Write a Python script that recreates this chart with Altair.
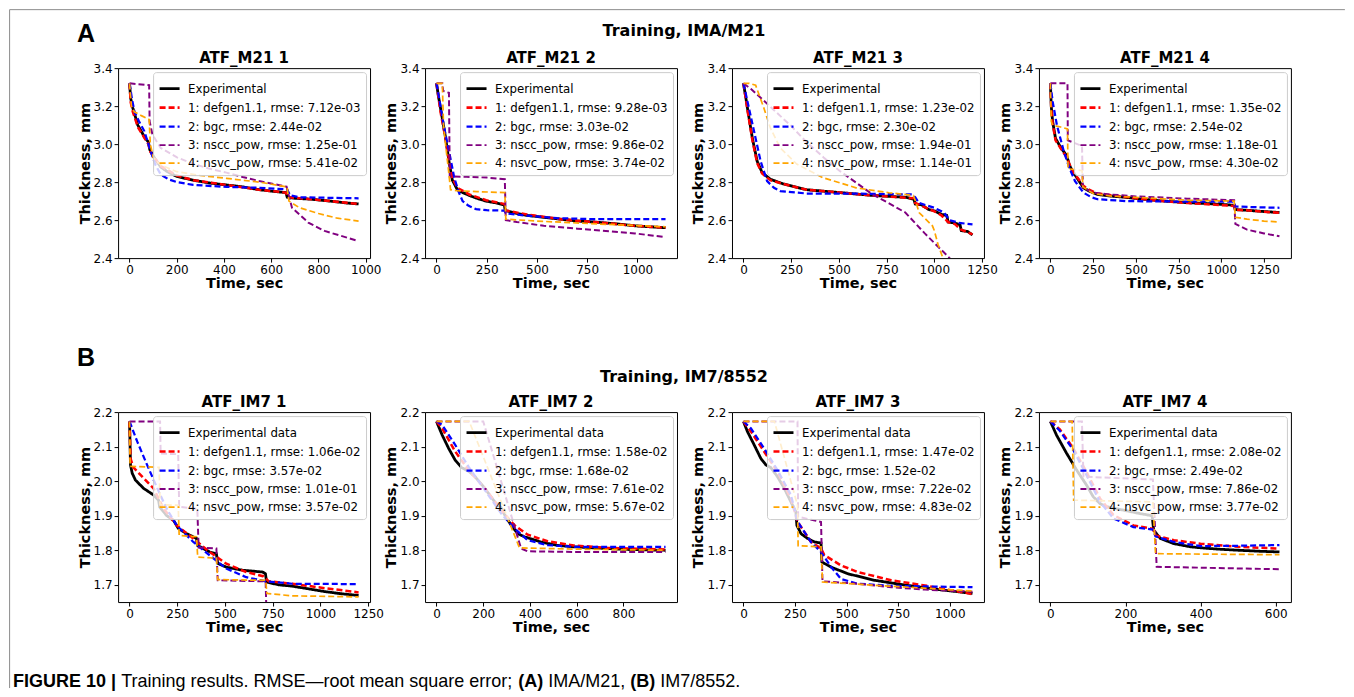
import altair as alt
import pandas as pd

# ------------------------------------------------------------------ texts
SECTION_LETTERS = ["A", "B"]
SECTION_TITLES = ["Training, IMA/M21", "Training, IM7/8552"]
PANEL_TITLES = ["ATF_M21 1", "ATF_M21 2", "ATF_M21 3", "ATF_M21 4",
                "ATF_IM7 1", "ATF_IM7 2", "ATF_IM7 3", "ATF_IM7 4"]
EXP_LABELS = ["Experimental", "Experimental data"]
MODEL_NAMES = ["1: defgen1.1", "2: bgc", "3: nscc_pow", "4: nsvc_pow"]
CAPTION_PARTS = ["FIGURE 10 |", "Training results. RMSE\u2014root mean square error;",
                 "(A)", "IMA/M21,", "(B)", "IM7/8552."]
CAPTION_BOLD = [True, False, True, False, True, False]

RMSE_A1 = ["7.12e-03", "2.44e-02", "1.25e-01", "5.41e-02"]
RMSE_A2 = ["9.28e-03", "3.03e-02", "9.86e-02", "3.74e-02"]
RMSE_A3 = ["1.23e-02", "2.30e-02", "1.94e-01", "1.14e-01"]
RMSE_A4 = ["1.35e-02", "2.54e-02", "1.18e-01", "4.30e-02"]
RMSE_B1 = ["1.06e-02", "3.57e-02", "1.01e-01", "3.57e-02"]
RMSE_B2 = ["1.58e-02", "1.68e-02", "7.61e-02", "5.67e-02"]
RMSE_B3 = ["1.47e-02", "1.52e-02", "7.22e-02", "4.83e-02"]
RMSE_B4 = ["2.08e-02", "2.49e-02", "7.86e-02", "3.77e-02"]

# ------------------------------------------------------------------ axes
XDOM_A1, XTICKS_A1 = [-48.5, 1018.5], [0, 200, 400, 600, 800, 1000]
XDOM_A2, XTICKS_A2 = [-57, 1197], [0, 250, 500, 750, 1000]
XDOM_A3, XTICKS_A3 = [-60, 1260], [0, 250, 500, 750, 1000, 1250]
XDOM_A4, XTICKS_A4 = [-67, 1407], [0, 250, 500, 750, 1000, 1250]
XDOM_B1, XTICKS_B1 = [-60, 1260], [0, 250, 500, 750, 1000, 1250]
XDOM_B2, XTICKS_B2 = [-49, 1029], [0, 200, 400, 600, 800]
XDOM_B3, XTICKS_B3 = [-55.5, 1165.5], [0, 250, 500, 750, 1000]
XDOM_B4, XTICKS_B4 = [-30.5, 640.5], [0, 200, 400, 600]
YDOM_A, YTICKS_A = [2.4, 3.4], [2.4, 2.6, 2.8, 3.0, 3.2, 3.4]
YDOM_B, YTICKS_B = [1.65, 2.2], [1.7, 1.8, 1.9, 2.0, 2.1, 2.2]

# ------------------------------------------------------------------ series (time s, thickness mm)
A1_EXP = [(0,3.32),(5,3.24),(14,3.19),(35,3.10),(62,3.04),(80,3.01),(86,2.97),(104,2.93),(132,2.88),(160,2.855),(200,2.83),(270,2.81),(340,2.795),(410,2.785),(480,2.775),(550,2.76),(620,2.75),(662,2.745),(668,2.72),(700,2.715),(770,2.71),(850,2.70),(920,2.69),(970,2.685)]
A1_M1 = [(0,3.32),(5,3.22),(14,3.17),(35,3.09),(62,3.035),(80,3.0),(88,2.96),(104,2.93),(132,2.885),(200,2.835),(270,2.81),(410,2.785),(550,2.76),(662,2.745),(670,2.72),(770,2.71),(970,2.685)]
A1_M2 = [(0,3.32),(10,3.24),(21,3.17),(40,3.12),(62,3.07),(90,2.96),(110,2.89),(132,2.84),(165,2.815),(200,2.80),(270,2.785),(410,2.775),(550,2.77),(667,2.762),(680,2.73),(720,2.72),(970,2.715)]
A1_M3 = [(0,3.32),(83,3.31),(85,3.12),(97,3.05),(132,2.98),(201,2.93),(271,2.896),(340,2.87),(410,2.85),(479,2.827),(549,2.806),(618,2.788),(665,2.776),(688,2.665),(757,2.587),(826,2.543),(896,2.517),(965,2.491)]
A1_M4 = [(0,3.32),(8,3.20),(20,3.17),(50,3.15),(83,3.13),(88,3.0),(100,2.93),(132,2.89),(200,2.855),(300,2.835),(410,2.82),(550,2.80),(667,2.775),(675,2.70),(720,2.665),(800,2.635),(880,2.61),(970,2.595)]

A2_EXP = [(0,3.32),(10,3.25),(20,3.19),(45,3.035),(62,2.91),(79,2.81),(104,2.76),(130,2.745),(163,2.73),(200,2.715),(247,2.70),(300,2.69),(338,2.68),(342,2.65),(400,2.635),(450,2.625),(530,2.615),(618,2.605),(700,2.595),(786,2.59),(900,2.58),(988,2.57),(1060,2.565),(1140,2.56)]
A2_M1 = [(0,3.32),(20,3.17),(45,3.03),(62,2.92),(79,2.82),(104,2.77),(163,2.735),(247,2.705),(338,2.685),(345,2.65),(450,2.63),(618,2.605),(786,2.59),(988,2.57),(1140,2.56)]
A2_M2 = [(0,3.32),(15,3.23),(29,3.14),(45,3.05),(62,2.965),(88,2.825),(110,2.75),(130,2.70),(160,2.675),(197,2.658),(250,2.652),(338,2.65),(345,2.635),(450,2.623),(600,2.61),(786,2.605),(1140,2.605)]
A2_M3 = [(0,3.32),(29,3.32),(33,3.28),(62,3.27),(66,2.83),(150,2.828),(250,2.824),(340,2.815),(345,2.60),(400,2.59),(534,2.57),(700,2.555),(870,2.54),(988,2.53),(1140,2.51)]
A2_M4 = [(0,3.32),(29,3.32),(35,3.10),(45,3.0),(60,2.86),(70,2.76),(100,2.755),(200,2.75),(340,2.745),(345,2.605),(500,2.595),(800,2.58),(1140,2.565)]

A3_EXP = [(0,3.32),(10,3.26),(21,3.19),(47,3.03),(72,2.91),(98,2.85),(141,2.815),(210,2.79),(331,2.76),(503,2.745),(676,2.73),(850,2.72),(893,2.71),(900,2.685),(934,2.68),(968,2.657),(1003,2.648),(1037,2.63),(1065,2.625),(1072,2.59),(1106,2.585),(1135,2.575),(1141,2.545),(1175,2.54),(1200,2.522)]
A3_M1 = [(0,3.32),(21,3.18),(47,3.02),(72,2.90),(98,2.845),(141,2.81),(210,2.79),(331,2.76),(503,2.745),(676,2.73),(893,2.715),(900,2.69),(968,2.66),(1003,2.645),(1037,2.625),(1072,2.59),(1106,2.58),(1141,2.55),(1200,2.525)]
A3_M2 = [(0,3.32),(21,3.225),(55,3.07),(90,2.91),(124,2.805),(160,2.77),(193,2.753),(331,2.74),(500,2.74),(700,2.738),(883,2.735),(900,2.72),(920,2.69),(1000,2.665),(1050,2.64),(1080,2.60),(1130,2.585),(1200,2.578)]
A3_M3 = [(0,3.32),(40,3.29),(100,3.235),(159,3.18),(250,3.095),(331,3.01),(420,2.93),(503,2.86),(600,2.79),(676,2.735),(760,2.69),(848,2.64),(950,2.53),(1080,2.40),(1200,2.26)]
A3_M4 = [(0,3.32),(30,3.32),(64,3.31),(107,3.19),(141,3.085),(193,2.98),(279,2.895),(417,2.823),(590,2.77),(762,2.744),(890,2.73),(905,2.69),(920,2.64),(990,2.57),(1000,2.545),(1020,2.47),(1045,2.40),(1200,2.2)]

A4_EXP = [(0,3.32),(5,3.20),(13,3.12),(30,3.03),(62,2.98),(95,2.94),(111,2.89),(128,2.86),(161,2.815),(193,2.77),(226,2.753),(275,2.735),(350,2.727),(440,2.72),(520,2.712),(603,2.705),(700,2.698),(800,2.692),(900,2.688),(1000,2.683),(1075,2.678),(1082,2.655),(1150,2.652),(1250,2.645),(1340,2.64)]
A4_M1 = [(0,3.32),(5,3.19),(13,3.11),(30,3.02),(62,2.975),(95,2.93),(128,2.86),(161,2.82),(193,2.78),(226,2.76),(275,2.74),(440,2.722),(603,2.705),(800,2.69),(1075,2.675),(1082,2.655),(1200,2.648),(1340,2.638)]
A4_M2 = [(0,3.32),(13,3.225),(38,3.10),(79,2.96),(111,2.875),(144,2.805),(193,2.745),(240,2.72),(275,2.71),(440,2.70),(700,2.698),(1075,2.697),(1082,2.672),(1200,2.668),(1340,2.665)]
A4_M3 = [(0,3.32),(100,3.32),(102,3.02),(185,2.99),(190,2.77),(250,2.745),(350,2.735),(500,2.725),(800,2.713),(1075,2.705),(1082,2.58),(1150,2.55),(1250,2.53),(1340,2.515)]
A4_M4 = [(0,3.32),(5,3.12),(13,3.10),(60,3.09),(100,3.08),(103,2.87),(150,2.865),(185,2.86),(190,2.775),(250,2.74),(350,2.727),(500,2.72),(800,2.705),(1075,2.70),(1082,2.615),(1150,2.605),(1250,2.595),(1340,2.59)]

B1_EXP = [(0,2.173),(3,2.10),(5,2.047),(14,2.023),(31,2.003),(74,1.979),(126,1.96),(152,1.945),(158,1.925),(195,1.90),(230,1.887),(256,1.863),(300,1.848),(351,1.834),(356,1.814),(420,1.795),(455,1.79),(462,1.762),(507,1.751),(593,1.742),(697,1.737),(712,1.732),(718,1.708),(780,1.70),(853,1.696),(940,1.688),(1026,1.68),(1110,1.674),(1200,1.669)]
B1_M1 = [(0,2.173),(5,2.066),(20,2.04),(40,2.028),(80,2.005),(126,1.979),(178,1.921),(247,1.872),(334,1.834),(420,1.795),(507,1.761),(611,1.737),(700,1.725),(730,1.71),(853,1.703),(1026,1.69),(1200,1.678)]
B1_M2 = [(0,2.173),(40,2.115),(92,2.047),(161,1.96),(200,1.915),(247,1.872),(334,1.824),(420,1.785),(507,1.747),(611,1.722),(715,1.71),(853,1.703),(1200,1.702)]
B1_M3 = [(0,2.173),(160,2.173),(163,2.08),(255,2.078),(260,1.926),(355,1.92),(362,1.808),(455,1.805),(462,1.713),(713,1.71),(718,1.60),(1200,1.58)]
B1_M4 = [(0,2.173),(3,2.043),(155,2.04),(160,1.932),(255,1.93),(260,1.843),(351,1.839),(357,1.78),(455,1.777),(462,1.715),(713,1.713),(720,1.675),(850,1.668),(1200,1.665)]

B2_EXP = [(0,2.173),(24,2.134),(52,2.095),(80,2.061),(108,2.039),(137,2.029),(165,2.013),(207,1.979),(249,1.94),(263,1.931),(275,1.925),(292,1.902),(320,1.872),(348,1.848),(376,1.839),(446,1.824),(517,1.814),(587,1.81),(728,1.805),(827,1.802),(980,1.80)]
B2_M1 = [(0,2.173),(24,2.153),(80,2.086),(137,2.032),(207,1.979),(277,1.916),(334,1.872),(390,1.845),(475,1.826),(587,1.814),(728,1.807),(980,1.802)]
B2_M2 = [(0,2.173),(24,2.163),(80,2.105),(137,2.042),(207,1.974),(277,1.906),(334,1.863),(390,1.829),(475,1.815),(587,1.81),(728,1.81),(980,1.81)]
B2_M3 = [(0,2.173),(200,2.173),(362,1.805),(390,1.797),(600,1.795),(980,1.795)]
B2_M4 = [(0,2.173),(140,2.173),(355,1.807),(600,1.803),(980,1.80)]

B3_EXP = [(0,2.173),(19,2.144),(52,2.105),(84,2.066),(109,2.047),(133,2.039),(165,2.013),(198,1.979),(230,1.94),(254,1.911),(259,1.872),(279,1.848),(311,1.834),(344,1.824),(376,1.821),(380,1.766),(425,1.751),(506,1.732),(635,1.713),(797,1.698),(950,1.686),(1110,1.675)]
B3_M1 = [(0,2.173),(36,2.144),(100,2.086),(165,2.027),(230,1.95),(263,1.882),(327,1.824),(376,1.805),(392,1.786),(473,1.756),(554,1.737),(716,1.713),(880,1.698),(1110,1.673)]
B3_M2 = [(0,2.173),(36,2.153),(100,2.095),(165,2.032),(230,1.96),(263,1.882),(327,1.824),(376,1.795),(425,1.751),(473,1.717),(554,1.703),(716,1.697),(1110,1.693)]
B3_M3 = [(0,2.173),(262,2.173),(265,1.897),(376,1.882),(383,1.71),(554,1.703),(716,1.693),(880,1.686),(1110,1.68)]
B3_M4 = [(0,2.173),(150,2.173),(262,1.93),(265,1.813),(376,1.81),(383,1.708),(600,1.70),(1110,1.682)]

B4_EXP = [(0,2.173),(16,2.134),(43,2.081),(70,2.032),(96,1.989),(114,1.955),(132,1.935),(150,1.926),(195,1.916),(239,1.906),(271,1.90),(275,1.858),(293,1.834),(329,1.819),(373,1.81),(400,1.807),(450,1.803),(500,1.80),(560,1.797),(610,1.795)]
B4_M1 = [(0,2.173),(25,2.15),(61,2.095),(96,2.027),(132,1.95),(168,1.902),(221,1.872),(273,1.862),(280,1.843),(329,1.829),(400,1.819),(500,1.81),(610,1.805)]
B4_M2 = [(0,2.173),(25,2.146),(61,2.09),(96,2.018),(132,1.94),(168,1.892),(221,1.867),(273,1.86),(280,1.84),(329,1.824),(400,1.812),(500,1.813),(610,1.815)]
B4_M3 = [(0,2.173),(84,2.173),(88,2.013),(273,2.005),(283,1.752),(610,1.745)]
B4_M4 = [(0,2.173),(58,2.173),(62,1.945),(273,1.94),(280,1.79),(610,1.787)]

# ------------------------------------------------------------------ styles
LINE_COLORS = ["#000000", "#ff0000", "#0000ff", "#800080", "#ffa500"]
LINE_DASHES = [[1, 0], [6, 3], [6, 3], [6, 3], [6, 3]]
LINE_WIDTHS = [2.8, 1.7, 1.7, 1.7, 1.7]
PW, PH = 252, 190
FONT = "DejaVu Sans"


def frame(labels, series):
    rows = []
    for lab, pts in zip(labels, series):
        for t, y in pts:
            rows.append({"t": t, "y": y, "s": lab})
    return pd.DataFrame(rows)


def text_layer(txt, x, y, size, bold, font, align="center"):
    return alt.Chart(pd.DataFrame({"txt": [txt]})).mark_text(
        font=font, fontSize=size, fontWeight="bold" if bold else "normal",
        align=align, baseline="middle", color="black"
    ).encode(x=alt.value(x), y=alt.value(y), text="txt:N")


def border_rule(x, x2, y, y2):
    enc = {"x": alt.value(x), "y": alt.value(y)}
    if x2 is not None:
        enc["x2"] = alt.value(x2)
    if y2 is not None:
        enc["y2"] = alt.value(y2)
    return alt.Chart(pd.DataFrame({"k": [0]})).mark_rule(
        color="#8c8c8c", strokeWidth=1).encode(**enc)


def panel(title, exp_label, rmse, series, xdom, xticks, ydom, yticks, extra):
    labels = [exp_label] + [f"{m}, rmse: {r}" for m, r in zip(MODEL_NAMES, rmse)]
    leg = alt.Legend(
        orient="top-right", offset=4, title=None, symbolType="stroke",
        symbolSize=400, labelFont=FONT, labelFontSize=11.8, labelColor="black",
        labelOffset=7, labelLimit=400, fillColor="rgba(255,255,255,0.8)",
        strokeColor="#cccccc", cornerRadius=3, padding=5, rowPadding=-6,
    )
    x = alt.X("t:Q", scale=alt.Scale(domain=xdom, nice=False, zero=False),
              axis=alt.Axis(values=xticks, format="d", title="Time, sec"))
    y = alt.Y("y:Q", scale=alt.Scale(domain=ydom, nice=False, zero=False),
              axis=alt.Axis(values=yticks, format=".1f", title="Thickness, mm"))
    color = alt.Color("s:N", scale=alt.Scale(domain=labels, range=LINE_COLORS), legend=leg)
    dash = alt.StrokeDash("s:N", scale=alt.Scale(domain=labels, range=LINE_DASHES), legend=leg)
    width = alt.StrokeWidth("s:N", scale=alt.Scale(domain=labels, range=LINE_WIDTHS), legend=leg)
    exp = alt.Chart(frame(labels[:1], series[:1])).mark_line(clip=True).encode(
        x=x, y=y, color=color, strokeDash=dash, strokeWidth=width)
    mod = alt.Chart(frame(labels[1:], series[1:])).mark_line(clip=True).encode(
        x=x, y=y, color=color, strokeDash=dash, strokeWidth=width)
    ttl = text_layer(title, PW / 2, -10, 15, True, FONT)
    return alt.layer(exp, mod, ttl, *extra).properties(width=PW, height=PH)


# page frame and section headings (relative to the first panel's plot origin)
annot_A = [
    border_rule(-108.5, 1227, -58.5, None),
    border_rule(-108.5, None, -58.5, 620),
    text_layer(SECTION_LETTERS[0], -32, -34, 25, True, "Liberation Sans"),
    text_layer(SECTION_TITLES[0], 566, -37, 16, True, FONT),
]
cap_x = [-105, 3.1, 400.2, 430.2, 512.2, 542.2]
annot_B = [
    text_layer(SECTION_LETTERS[1], -32, -54, 25, True, "Liberation Sans"),
    text_layer(SECTION_TITLES[1], 566, -35, 16, True, FONT),
] + [text_layer(p, cx, 270, 18, b, "Liberation Sans", align="left")
     for p, cx, b in zip(CAPTION_PARTS, cap_x, CAPTION_BOLD)]

panels = [
    panel(PANEL_TITLES[0], EXP_LABELS[0], RMSE_A1, [A1_EXP, A1_M1, A1_M2, A1_M3, A1_M4], XDOM_A1, XTICKS_A1, YDOM_A, YTICKS_A, annot_A),
    panel(PANEL_TITLES[1], EXP_LABELS[0], RMSE_A2, [A2_EXP, A2_M1, A2_M2, A2_M3, A2_M4], XDOM_A2, XTICKS_A2, YDOM_A, YTICKS_A, []),
    panel(PANEL_TITLES[2], EXP_LABELS[0], RMSE_A3, [A3_EXP, A3_M1, A3_M2, A3_M3, A3_M4], XDOM_A3, XTICKS_A3, YDOM_A, YTICKS_A, []),
    panel(PANEL_TITLES[3], EXP_LABELS[0], RMSE_A4, [A4_EXP, A4_M1, A4_M2, A4_M3, A4_M4], XDOM_A4, XTICKS_A4, YDOM_A, YTICKS_A, []),
    panel(PANEL_TITLES[4], EXP_LABELS[1], RMSE_B1, [B1_EXP, B1_M1, B1_M2, B1_M3, B1_M4], XDOM_B1, XTICKS_B1, YDOM_B, YTICKS_B, annot_B),
    panel(PANEL_TITLES[5], EXP_LABELS[1], RMSE_B2, [B2_EXP, B2_M1, B2_M2, B2_M3, B2_M4], XDOM_B2, XTICKS_B2, YDOM_B, YTICKS_B, []),
    panel(PANEL_TITLES[6], EXP_LABELS[1], RMSE_B3, [B3_EXP, B3_M1, B3_M2, B3_M3, B3_M4], XDOM_B3, XTICKS_B3, YDOM_B, YTICKS_B, []),
    panel(PANEL_TITLES[7], EXP_LABELS[1], RMSE_B4, [B4_EXP, B4_M1, B4_M2, B4_M3, B4_M4], XDOM_B4, XTICKS_B4, YDOM_B, YTICKS_B, []),
]

chart = alt.concat(
    *panels, columns=4, bounds="flush",
    spacing=alt.RowColnumber(row=154, column=55),
).resolve_scale(
    x="independent", y="independent", color="independent",
    strokeDash="independent", strokeWidth="independent",
).properties(
    padding={"left": 0.1, "top": 0.1, "right": 0.1, "bottom": 0.1},
).configure_axis(
    labelFont=FONT, labelFontSize=12, labelColor="black",
    titleFont=FONT, titleFontSize=14.5, titleFontWeight="bold", titleColor="black",
    tickColor="black", tickSize=4, tickWidth=1, domain=False, grid=False,
    labelPadding=2, titlePadding=1,
).configure_view(stroke="black", strokeWidth=1)

chart.save("out.html", embed_options={"renderer": "svg", "actions": False})
